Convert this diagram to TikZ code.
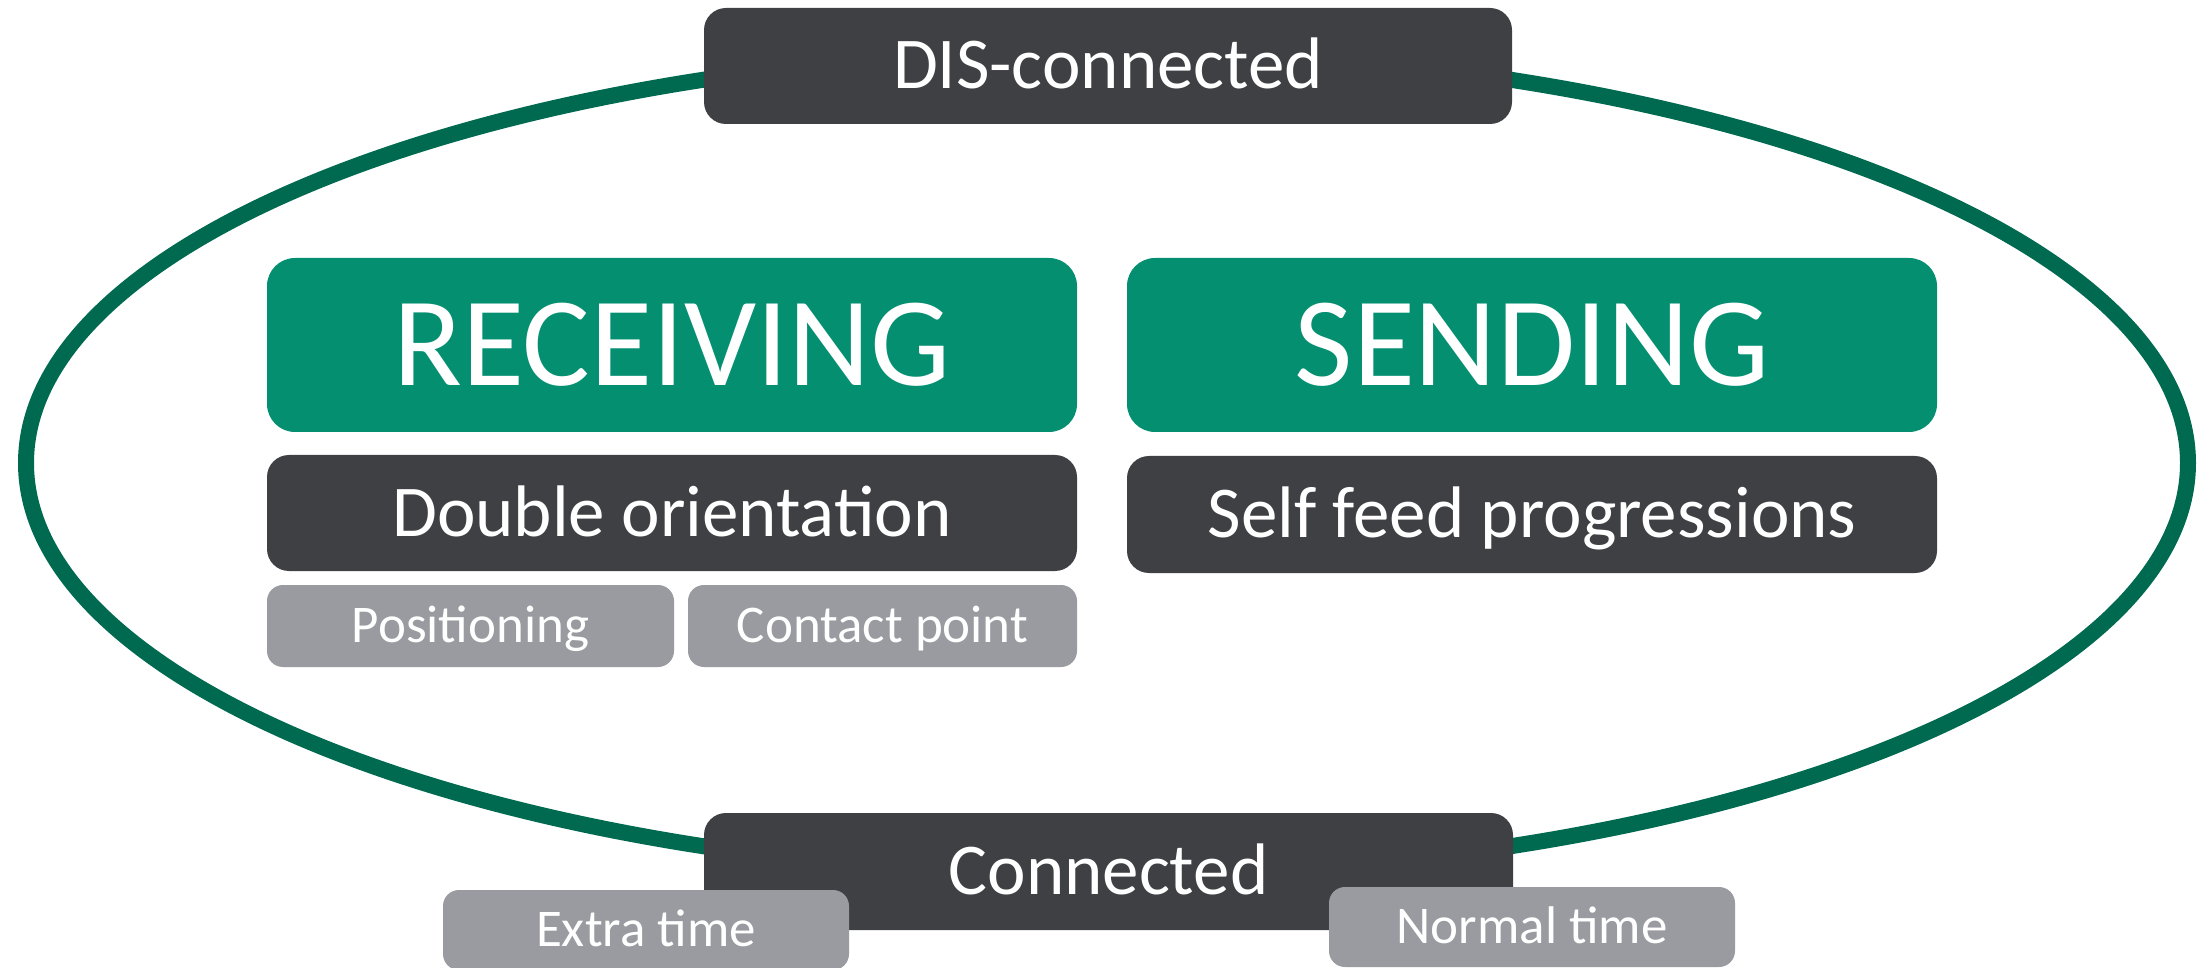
\documentclass[tikz,border=0pt]{standalone}
\usepackage{fontspec}
\setmainfont{Carlito}
\definecolor{boxgreen}{RGB}{3,143,112}
\definecolor{boxdark}{RGB}{63,64,68}
\definecolor{boxgray}{RGB}{154,155,160}
\definecolor{ringgreen}{RGB}{0,106,80}
\tikzset{
  sz/.style 2 args={minimum width=#1*0.5pt, minimum height=#2*0.5pt},
  card/.style={rectangle, inner sep=0pt, outer sep=0pt, text=white, align=center},
  bigcard/.style={card, fill=boxgreen, rounded corners=14pt,
    font=\fontsize{63.5pt}{67pt}\selectfont, text height=40.5pt, text depth=0pt},
  midcard/.style={card, fill=boxdark, rounded corners=11pt,
    font=\fontsize{36.5pt}{40pt}\selectfont, text height=23pt, text depth=0pt},
  smallcard/.style={card, fill=boxgray, rounded corners=8pt,
    font=\fontsize{26.5pt}{29pt}\selectfont, text height=16.7pt, text depth=0pt},
  ring/.style={draw=ringgreen, line width=8pt}
}
\begin{document}
\begin{tikzpicture}[x=0.5pt, y=-0.5pt]
  \useasboundingbox (0,0) rectangle (2208,968);

  % the cycle between the two states
  \draw[ring] (1107,463) ellipse [x radius=1081, y radius=413];

  % states on the cycle
  \node[midcard, sz={808}{116}] (dis) at (1108,66) {DIS-connected};
  \node[midcard, sz={809}{117}] (con) at (1108.5,871.5) {Connected};

  % phases of play
  \node[bigcard, sz={810}{174}] (recv) at (672,345) {RECEIVING};
  \node[bigcard, sz={810}{174}] (send) at (1532,345) {SENDING};

  \node[midcard, sz={810}{116}] (dbl) at (672,513) {Double orientation};
  \node[midcard, sz={810}{117}] (self) at (1532,514.5) {Self feed progressions};

  \node[smallcard, sz={407}{82}] (pos) at (470.5,626) {Positioning};
  \node[smallcard, sz={389}{82}] (cp) at (882.5,626) {Contact point};

  % match time labels under the connected state
  \node[smallcard, sz={406}{80}] (extra) at (646,930) {Extra time};
  \node[smallcard, sz={406}{80}] (normal) at (1532,927) {Normal time};
\end{tikzpicture}
\end{document}
